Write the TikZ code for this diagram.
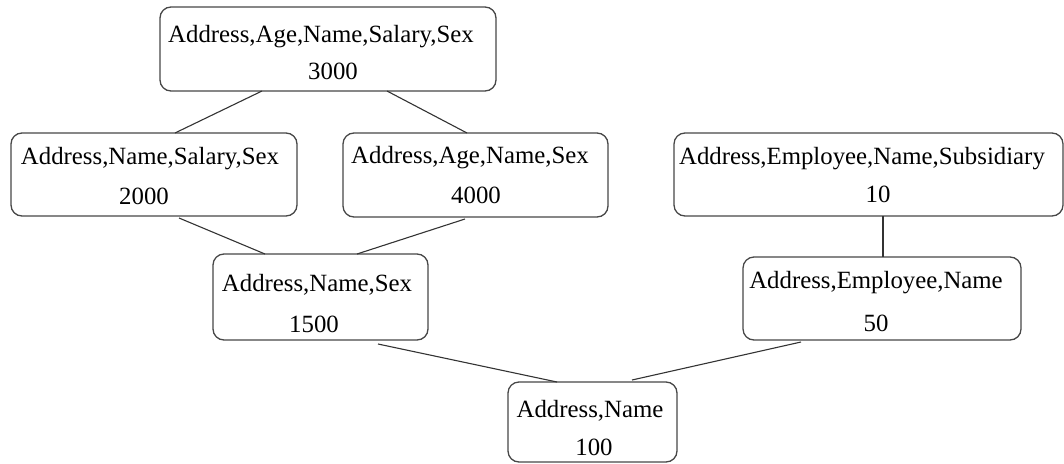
\documentclass[tikz,border=0pt]{standalone}
\usepackage{fontspec}
\setmainfont{Liberation Serif}
\begin{document}
\begin{tikzpicture}[x=1pt,y=-1pt,
  box/.style={draw=black!72, line width=1.3pt, rounded corners=11pt, inner sep=0pt, outer sep=0pt},
  lbl/.style={anchor=base, inner sep=0pt, font=\fontsize{24.8}{30}\selectfont},
  link/.style={draw=black!80, line width=1.1pt}]
\useasboundingbox (0,0) rectangle (1064,463);
% boxes
\node[box, minimum width=336pt, minimum height=84pt] (n3000) at (328,49) {};
\node[box, minimum width=286pt, minimum height=83pt] (n2000) at (154,174.5) {};
\node[box, minimum width=265pt, minimum height=84pt] (n4000) at (475.5,175) {};
\node[box, minimum width=389pt, minimum height=83pt] (n10) at (868.5,174.5) {};
\node[box, minimum width=215pt, minimum height=86pt] (n1500) at (320.5,297) {};
\node[box, minimum width=278pt, minimum height=83pt] (n50) at (882,298.5) {};
\node[box, minimum width=169pt, minimum height=80pt] (n100) at (592.5,422) {};
% labels
\node[lbl] (t3000a) at (321,42) {Address,Age,Name,Salary,Sex};
\node[lbl] (t3000b) at (333,79) {3000};
\node[lbl] (t2000a) at (150,164) {Address,Name,Salary,Sex};
\node[lbl] (t2000b) at (144,204) {2000};
\node[lbl] (t4000a) at (470,163) {Address,Age,Name,Sex};
\node[lbl] (t4000b) at (476,203) {4000};
\node[lbl] (t10a) at (862,164) {Address,Employee,Name,Subsidiary};
\node[lbl] (t10b) at (878,202) {10};
\node[lbl] (t1500a) at (317,291) {Address,Name,Sex};
\node[lbl] (t1500b) at (314,332) {1500};
\node[lbl] (t50a) at (876,288) {Address,Employee,Name};
\node[lbl] (t50b) at (876,331) {50};
\node[lbl] (t100a) at (590,417) {Address,Name};
\node[lbl] (t100b) at (594,455) {100};
% connectors
\draw[link] ([xshift=-66pt]n3000.south) -- ([xshift=21pt]n2000.north);
\draw[link] ([xshift=59pt]n3000.south) -- ([xshift=-8.5pt]n4000.north);
\draw[link] ([xshift=25pt,yshift=-2pt]n2000.south) -- ([xshift=-55.5pt]n1500.north);
\draw[link] ([xshift=-10.5pt,yshift=-2pt]n4000.south) -- ([xshift=36.5pt]n1500.north);
\draw[link] ([xshift=57.5pt,yshift=-4pt]n1500.south) -- ([xshift=-35.5pt]n100.north);
\draw[link] ([xshift=-81pt,yshift=-2pt]n50.south) -- ([xshift=39.5pt,yshift=2pt]n100.north);
\draw[link] ([xshift=14.5pt]n10.south) -- ([xshift=1pt]n50.north);
\end{tikzpicture}
\end{document}
